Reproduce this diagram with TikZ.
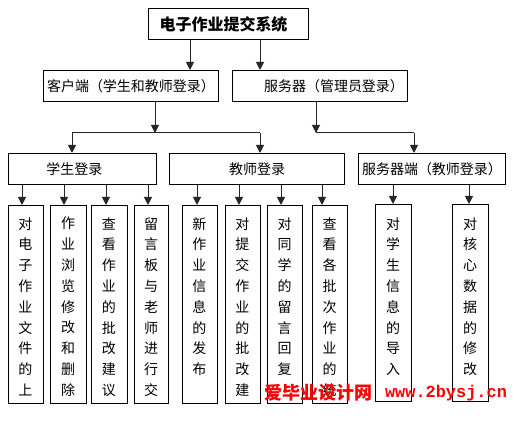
\documentclass[tikz,border=0pt]{standalone}
\usepackage{fontspec}
\newfontfamily\cjk{Noto Sans CJK SC}
\newfontfamily\wmmono{Liberation Mono}
\usetikzlibrary{arrows.meta}
\begin{document}
\begin{tikzpicture}[x=0.75pt,y=-0.75pt,
  box/.style={draw=black,line width=0.75pt,inner sep=0pt,anchor=north west,minimum height=23.25pt,font=\cjk\fontsize{10.5pt}{12pt}\selectfont},
  leafbox/.style={draw=black,line width=0.75pt,inner sep=0pt,anchor=north west,minimum height=148.5pt},
  leaftext/.style={inner sep=0pt,anchor=north,align=center,font=\cjk\fontsize{10.5pt}{15.6pt}\selectfont},
  arr/.style={draw=black!85,line width=0.75pt,-{Triangle[length=6pt,width=6pt]}},
  conn/.style={draw=black!85,line width=0.75pt},
  wm/.style={text=red,inner sep=0pt}]
\useasboundingbox[fill=white] (0,0) rectangle (519,423);

% level 0
\node[box,minimum width=120pt,font=\cjk\bfseries\fontsize{12pt}{14pt}\selectfont] (title) at (148,8) {电子作业提交系统\hspace*{7.5pt}};
% level 1
\node[box,minimum width=131.25pt] (client) at (43,70) {客户端（学生和教师登录）};
\node[box,minimum width=131.25pt] (server) at (232,70) {\hspace*{21pt}服务器（管理员登录）};
% level 2
\node[box,minimum width=111pt] (student) at (8,153) {学生登录\hspace*{12pt}};
\node[box,minimum width=131.25pt] (teacher) at (169,153) {教师登录};
\node[box,minimum width=110.25pt] (sside) at (358,153) {服务器端（教师登录）};

% leaves
\node[leafbox,minimum width=26.25pt] (leaf1) at (8,205) {};
\node[leafbox,minimum width=27pt] (leaf2) at (50,205) {};
\node[leafbox,minimum width=27pt] (leaf3) at (91,205) {};
\node[leafbox,minimum width=25.5pt] (leaf4) at (134,205) {};
\node[leafbox,minimum width=26.25pt] (leaf5) at (182,205) {};
\node[leafbox,minimum width=26.25pt] (leaf6) at (225,205) {};
\node[leafbox,minimum width=26.25pt] (leaf7) at (267,205) {};
\node[leafbox,minimum width=26.25pt] (leaf8) at (312,205) {};
\node[leafbox,minimum width=27pt,minimum height=147.75pt] (leaf9) at (375,204) {};
\node[leafbox,minimum width=27pt,minimum height=147.75pt] (leaf10) at (452,204) {};

\node[leaftext] (txt1) at (25.5,217) {对\\电\\子\\作\\业\\文\\件\\的\\上};
\node[leaftext] (txt2) at (68,217) {作\\业\\浏\\览\\修\\改\\和\\删\\除};
\node[leaftext] (txt3) at (109,217) {查\\看\\作\\业\\的\\批\\改\\建\\议};
\node[leaftext] (txt4) at (151,217) {留\\言\\板\\与\\老\\师\\进\\行\\交};
\node[leaftext] (txt5) at (199.5,217) {新\\作\\业\\信\\息\\的\\发\\布};
\node[leaftext] (txt6) at (242.5,217) {对\\提\\交\\作\\业\\的\\批\\改\\建};
\node[leaftext] (txt7) at (284.5,217) {对\\同\\学\\的\\留\\言\\回\\复};
\node[leaftext] (txt8) at (329.5,217) {查\\看\\各\\批\\次\\作\\业\\的\\统};
\node[leaftext] (txt9) at (393,217) {对\\学\\生\\信\\息\\的\\导\\入};
\node[leaftext] (txt10) at (470,217) {对\\核\\心\\数\\据\\的\\修\\改};

% connectors level 0 -> 1
\coordinate (t1) at (190,0);
\coordinate (t2) at (260,0);
\draw[arr] (title.south -| t1) -- (client.north -| t1);
\draw[arr] (title.south -| t2) -- (server.north -| t2);

% level 1 -> 2
\coordinate (cb) at (155,133);
\coordinate (cj1) at (72,133);
\coordinate (cj2) at (260,133);
\draw[arr] (client.south -| cb) -- (cb);
\draw[conn] (cj1) -- (cj2);
\draw[arr] (cj1) -- (cj1 |- student.north);
\draw[arr] (cj2) -- (cj2 |- teacher.north);

\coordinate (sb) at (316,133);
\coordinate (sj) at (414,133);
\draw[arr] (server.south -| sb) -- (sb);
\draw[conn] (sb) -- (sj);
\draw[arr] (sj) -- (sj |- sside.north);

% level 2 -> leaves
\foreach \p/\n/\ax in {student/1/22,student/2/64,student/3/106,student/4/148,
  teacher/5/197,teacher/6/239,teacher/7/281,teacher/8/322,sside/9/393,sside/10/469}{
  \coordinate (ax\n) at (\ax,0);
  \draw[arr] (\p.south -| ax\n) -- (leaf\n.north -| ax\n);
}

% watermark
\node[wm,font=\cjk\bfseries\fontsize{13.5pt}{14pt}\selectfont] (wm1) at (318,393) {爱毕业设计网};
\node[wm,font=\wmmono\bfseries\fontsize{12.7pt}{14pt}\selectfont] (wm2) at (446,393) {www.2bysj.cn};
\end{tikzpicture}
\end{document}
